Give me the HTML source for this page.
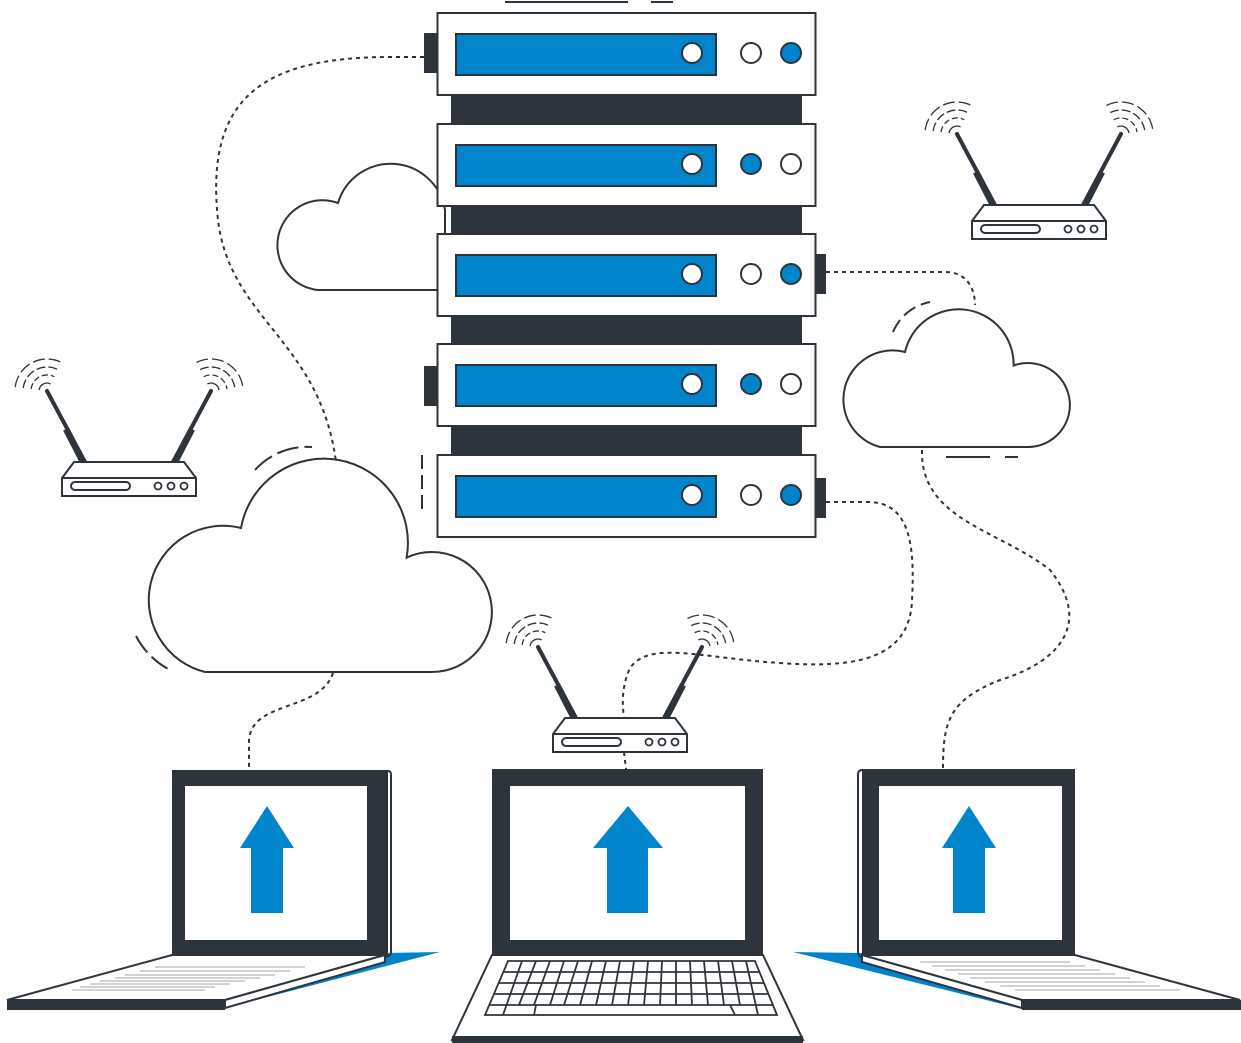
<!DOCTYPE html>
<html><head><meta charset="utf-8"><style>html,body{margin:0;padding:0;background:#fff}svg{display:block}</style></head>
<body>
<svg width="1241" height="1043" viewBox="0 0 1241 1043" xmlns="http://www.w3.org/2000/svg">
<defs>
<g id="router" stroke="#2e343b" fill="none">
  <g stroke-width="1.3">
    <path d="M-22.9,-72 A8,8 0 0 1 -11.4,-78.1"/>
    <path d="M-30.9,-73 A16,16 0 0 1 -7.7,-85.3" stroke-dasharray="6 3"/>
    <path d="M-38.8,-73.9 A24,24 0 0 1 -4.1,-92.4" stroke-dasharray="9 3"/>
    <path d="M-46.8,-74.9 A32,32 0 0 1 -0.5,-99.5" stroke-dasharray="12 4"/>
    <path d="M145.4,-78.1 A8,8 0 0 1 156.9,-72"/>
    <path d="M141.7,-85.3 A16,16 0 0 1 164.9,-73" stroke-dasharray="6 3"/>
    <path d="M138.1,-92.4 A24,24 0 0 1 172.8,-73.9" stroke-dasharray="9 3"/>
    <path d="M134.5,-99.5 A32,32 0 0 1 180.8,-74.9" stroke-dasharray="12 4"/>
  </g>
  <line x1="-15" y1="-71" x2="23" y2="0" stroke-width="4" stroke-linecap="round"/>
  <line x1="4" y1="-33" x2="21" y2="0" stroke-width="6.5"/>
  <line x1="149" y1="-71" x2="111" y2="0" stroke-width="4" stroke-linecap="round"/>
  <line x1="130" y1="-33" x2="113" y2="0" stroke-width="6.5"/>
  <path d="M12,0 L122,0 L134,16 L134,34 L0,34 L0,16 Z M0,16 L134,16" fill="#fff" stroke-width="2"/>
  <rect x="9" y="20" width="59" height="8" rx="4" stroke-width="2" fill="#fff"/>
  <circle cx="96" cy="24" r="3.5" stroke-width="1.8"/>
  <circle cx="109" cy="24" r="3.5" stroke-width="1.8"/>
  <circle cx="122" cy="24" r="3.5" stroke-width="1.8"/>
</g>
<g id="unit">
  <rect x="437.5" y="0" width="378" height="82" fill="#fff" stroke="#2e343b" stroke-width="2"/>
  <rect x="456" y="21" width="260" height="41" fill="#0085cc" stroke="#2e343b" stroke-width="2"/>
  <circle cx="692" cy="40" r="10" fill="#fff" stroke="#2e343b" stroke-width="2"/>
</g>
</defs>

<line x1="505" y1="2" x2="628" y2="2" stroke="#2e343b" stroke-width="2"/>
<line x1="651" y1="2" x2="673" y2="2" stroke="#2e343b" stroke-width="2"/>

<g fill="none" stroke="#2e343b" stroke-width="2" stroke-dasharray="4 4">
  <path d="M424,57 L390,57 C260,57 205,100 218,220 C230,320 320,340 336,462"/>
  <path d="M333,673 C320,712 252,700 249,740 L249,770"/>
  <path d="M826,272 L945,272 C968,272 975,290 975,305"/>
  <path d="M826,502 L868,502 C910,502 915,545 912,600 C910,662 850,668 780,663 C700,658 650,640 630,668 C620,690 623,710 624,718"/>
  <path d="M624,752 L626,769"/>
  <path d="M922,450 C920,520 1000,530 1050,570 C1090,620 1065,660 1000,680 C950,700 943,720 943,768"/>
</g>

<path d="M318,290 A45,45 0 1 1 338,203 A55,55 0 0 1 445,210 L445,290 Z" fill="#fff" stroke="#2e343b" stroke-width="2"/>

<path d="M205,672 A72,72 0 0 1 241,528 A83,83 0 0 1 406.6,557.6 A60,60 0 1 1 432,672 Z" fill="#fff" stroke="#2e343b" stroke-width="2"/>
<path d="M255,470 A70,70 0 0 1 312,447" fill="none" stroke="#2e343b" stroke-width="2" stroke-dasharray="22 6"/>
<path d="M136,636 A80,80 0 0 0 170,670" fill="none" stroke="#2e343b" stroke-width="2" stroke-dasharray="20 6"/>

<path d="M880,447 A42,42 0 0 1 905,352 A55,55 0 0 1 1013.6,365.5 A42,42 0 1 1 1028,447 Z" fill="#fff" stroke="#2e343b" stroke-width="2"/>
<path d="M893,332 A50,50 0 0 1 930,302" fill="none" stroke="#2e343b" stroke-width="2" stroke-dasharray="14 6"/>
<line x1="946" y1="457" x2="990" y2="457" stroke="#2e343b" stroke-width="2"/>
<line x1="1005" y1="457" x2="1018" y2="457" stroke="#2e343b" stroke-width="2"/>

<rect x="451" y="90" width="351" height="370" fill="#2e343b"/>
<rect x="424" y="33" width="14" height="40" fill="#2e343b"/>
<rect x="424" y="366" width="14" height="40" fill="#2e343b"/>
<rect x="815" y="254" width="11" height="40" fill="#2e343b"/>
<rect x="815" y="478" width="11" height="40" fill="#2e343b"/>
<line x1="422" y1="455" x2="422" y2="515" stroke="#2e343b" stroke-width="2" stroke-dasharray="14 6"/>
<use href="#unit" y="13"/>
<use href="#unit" y="124"/>
<use href="#unit" y="234"/>
<use href="#unit" y="344"/>
<use href="#unit" y="455"/>
<g stroke="#2e343b" stroke-width="2">
<circle cx="751" cy="53" r="10" fill="#fff"/><circle cx="791" cy="53" r="10" fill="#0085cc"/>
<circle cx="751" cy="164" r="10" fill="#0085cc"/><circle cx="791" cy="164" r="10" fill="#fff"/>
<circle cx="751" cy="274" r="10" fill="#fff"/><circle cx="791" cy="274" r="10" fill="#0085cc"/>
<circle cx="751" cy="384" r="10" fill="#0085cc"/><circle cx="791" cy="384" r="10" fill="#fff"/>
<circle cx="751" cy="495" r="10" fill="#fff"/><circle cx="791" cy="495" r="10" fill="#0085cc"/>
</g>

<use href="#router" x="62" y="462"/>
<use href="#router" x="972" y="205"/>
<use href="#router" x="553" y="718"/>

<polygon points="385,953 440,952 225,1008" fill="#0085cc"/>
<polygon points="7,1000 172,955 385,955 225,1000" fill="#fff" stroke="#2e343b" stroke-width="2"/>
<polygon points="225,1000 385,955 385,962 225,1008" fill="#fff" stroke="#2e343b" stroke-width="2"/>
<g stroke="#888" stroke-width="0.8"><line x1="72" y1="990" x2="205" y2="990"/><line x1="80" y1="987" x2="215" y2="987"/><line x1="90" y1="984" x2="230" y2="984"/><line x1="100" y1="981" x2="245" y2="981"/><line x1="115" y1="978" x2="260" y2="978"/><line x1="125" y1="975" x2="275" y2="975"/><line x1="140" y1="971" x2="290" y2="971"/><line x1="155" y1="967" x2="305" y2="967"/></g>
<rect x="7" y="1000" width="218" height="10" fill="#2e343b"/>
<rect x="172" y="770" width="216" height="186" fill="#2e343b"/>
<path d="M388,771 Q391,771 391,775 L391,952 Q391,956 386,957" fill="none" stroke="#2e343b" stroke-width="2"/>
<rect x="185" y="786" width="182" height="154" fill="#fff"/>
<polygon points="267,806 294,848 283,848 283,913 251,913 251,848 240,848" fill="#0085cc"/>

<polygon points="862,953 793,952 1022,1009" fill="#0085cc"/>
<polygon points="1240,1000 1075,955 862,955 1022,1000" fill="#fff" stroke="#2e343b" stroke-width="2"/>
<polygon points="1022,1000 862,955 862,962 1022,1008" fill="#fff" stroke="#2e343b" stroke-width="2"/>
<g stroke="#888" stroke-width="0.8"><line x1="920" y1="962" x2="1070" y2="962"/><line x1="932" y1="966" x2="1085" y2="966"/><line x1="945" y1="970" x2="1100" y2="970"/><line x1="958" y1="974" x2="1115" y2="974"/><line x1="970" y1="978" x2="1130" y2="978"/><line x1="985" y1="982" x2="1145" y2="982"/><line x1="1000" y1="986" x2="1160" y2="986"/><line x1="1015" y1="990" x2="1180" y2="990"/></g>
<rect x="1022" y="1000" width="219" height="10" fill="#2e343b"/>
<rect x="862" y="769" width="213" height="187" fill="#2e343b"/>
<path d="M862,770 Q858,770 858,775 L858,952 Q858,956 862,957" fill="none" stroke="#2e343b" stroke-width="2"/>
<rect x="879" y="786" width="183" height="154" fill="#fff"/>
<polygon points="969,806 996,848 985,848 985,913 953,913 953,848 942,848" fill="#0085cc"/>

<polygon points="492,955 763,955 803,1040 452,1040" fill="#fff" stroke="#2e343b" stroke-width="2"/>
<rect x="452" y="1036" width="351" height="7" fill="#2e343b"/>
<rect x="492" y="769" width="271" height="187" fill="#2e343b"/>
<rect x="510" y="786" width="235" height="154" fill="#fff"/>
<polygon points="628,806 663,848 648,848 648,913 607,913 607,848 593,848" fill="#0085cc"/>
<g fill="none" stroke="#2e343b" stroke-width="1.8">
<polygon points="508,961 755,961 777,1015 485,1015"/>
<line x1="503" y1="972" x2="760" y2="972"/>
<line x1="499" y1="983" x2="764" y2="983"/>
<line x1="494" y1="994" x2="769" y2="994"/>
<line x1="489" y1="1005" x2="773" y2="1005"/>
<path d="M522,961 L503,1015 M536,961 L519,1005 M550,961 L534,1005 M564,961 L550,1005 M578,961 L564,1005 M592,961 L580,1005 M606,961 L596,1005 M620,961 L612,1005 M634,961 L628,1005 M648,961 L644,1005 M662,961 L660,1005 M676,961 L676,1005 M690,961 L692,1005 M704,961 L708,1005 M718,961 L724,1005 M732,961 L740,1005 M746,961 L758,1015 M536,1005 L534,1015 M730,1005 L735,1015"/>
</g>
</svg>
</body></html>
